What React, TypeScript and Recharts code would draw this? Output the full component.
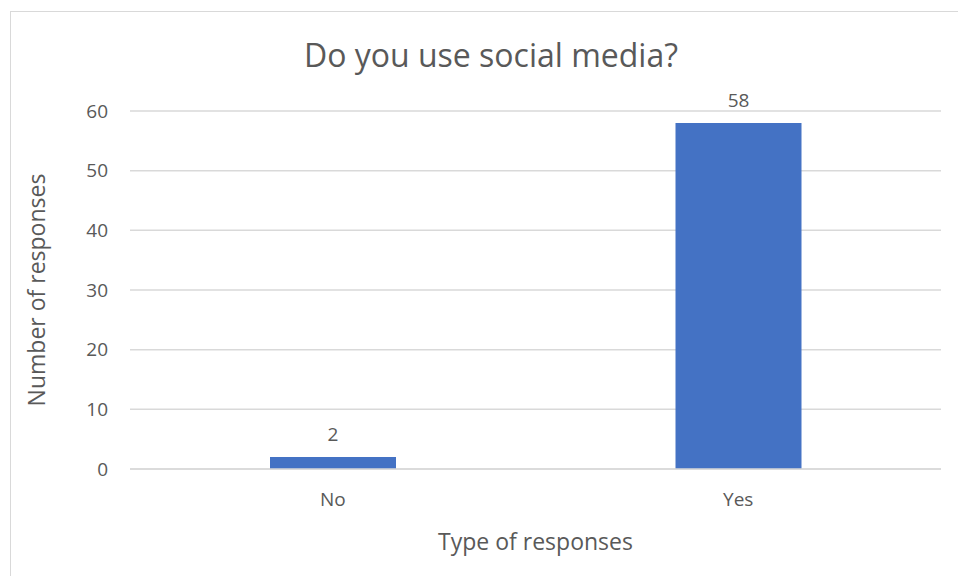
import { Bar, BarChart, CartesianGrid, LabelList, XAxis, YAxis } from "recharts";

const categories = ["No", "Yes"];
const responses = [2, 58];
const yTicks = [0, 10, 20, 30, 40, 50, 60];

const data = categories.map((name, i) => ({ name, value: responses[i] }));

const FONT = "'Open Sans', sans-serif";
const TEXT = "#595959";

const App = () => {
  return (
    <div
      style={{
        position: "fixed",
        left: 0,
        top: 0,
        width: 958,
        height: 576,
        overflow: "hidden",
        background: "#fff",
        fontFamily: FONT,
      }}
    >
      {/* chart frame, cut off at right and bottom like the screenshot */}
      <div
        style={{
          position: "absolute",
          left: 10,
          top: 11,
          width: 980,
          height: 600,
          border: "1px solid #d9d9d9",
        }}
      />
      <div style={{ position: "absolute", left: 0, top: 0 }}>
        <BarChart
          width={958}
          height={576}
          data={data}
          margin={{ top: 111, right: 17, bottom: 77, left: 0 }}
        >
          <CartesianGrid vertical={false} stroke="#d9d9d9" strokeWidth={1.5} />
          <XAxis
            dataKey="name"
            height={30}
            axisLine={{ stroke: "#d9d9d9", strokeWidth: 1.5 }}
            tickLine={false}
            tickMargin={18}
            tick={{ fill: TEXT, fontSize: 19, fontFamily: FONT }}
          />
          <YAxis
            width={130}
            domain={[0, 60]}
            ticks={yTicks}
            axisLine={false}
            tickLine={false}
            tickMargin={16}
            tick={{ fill: TEXT, fontSize: 19, fontFamily: FONT }}
          />
          <Bar dataKey="value" fill="#4472c4" barSize={126} isAnimationActive={false}>
            <LabelList
              dataKey="value"
              position="top"
              offset={16}
              fill={TEXT}
              fontSize={19}
              fontFamily={FONT}
            />
          </Bar>
        </BarChart>
      </div>
      <div
        style={{
          position: "absolute",
          left: 10,
          width: 962,
          top: 33,
          textAlign: "center",
          fontSize: 32,
          color: TEXT,
          lineHeight: "44px",
        }}
      >
        Do you use social media?
      </div>
      <div
        style={{
          position: "absolute",
          left: 130,
          width: 811,
          top: 525,
          textAlign: "center",
          fontSize: 23,
          color: TEXT,
          lineHeight: "32px",
        }}
      >
        Type of responses
      </div>
      <div
        style={{
          position: "absolute",
          left: 36 - 150,
          top: 290 - 16,
          width: 300,
          textAlign: "center",
          fontSize: 23,
          color: TEXT,
          lineHeight: "32px",
          transform: "rotate(-90deg)",
        }}
      >
        Number of responses
      </div>
    </div>
  );
};

export default App;
